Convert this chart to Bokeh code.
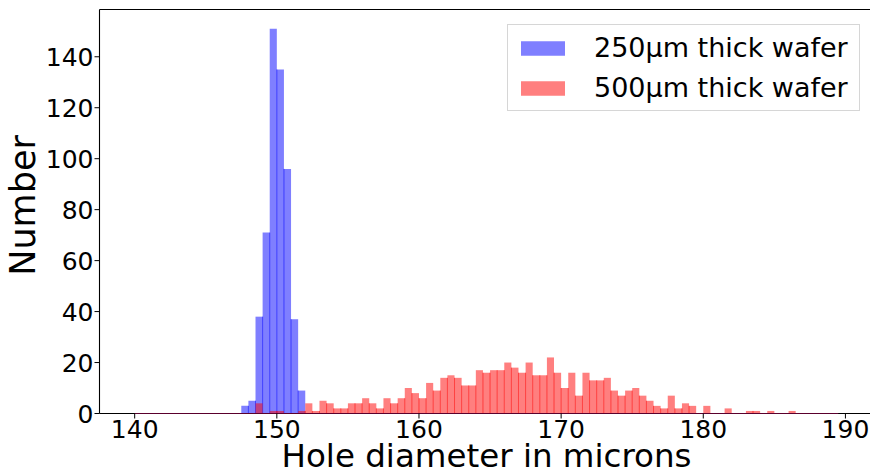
import math
import numpy as np
from bokeh.plotting import figure
from bokeh.models import Range1d, Legend, LegendItem
from bokeh.core.properties import value
from bokeh.embed import file_html
from bokeh.resources import INLINE

# Histogram bins: 0.5 micron wide, starting at 140 microns
bin_start = 140.0
bin_width = 0.5

# Counts per bin, 250 um thick wafer
counts_250 = [0] * 15 + [3, 5, 38, 71, 151, 135, 96, 37, 9] + [0] * 75

# Counts per bin, 500 um thick wafer
counts_500 = ([0] * 17 +
              [4, 0, 1, 1, 0, 0, 1, 4, 1, 5, 4, 2, 2, 4, 4, 6, 4, 2, 6,
               4, 6, 10, 8, 6, 12, 9, 14, 15, 14, 11, 11, 17, 16, 17, 17,
               20, 18, 16, 20, 15, 15, 22, 16, 10, 16, 7, 16, 13, 13, 14,
               9, 7, 9, 10, 7, 5, 3, 2, 7, 2, 4, 3, 0, 3, 0, 0, 2, 0, 0,
               1, 1, 0, 1, 0, 0, 1] +
              [0] * 6)

series_labels = ["250\u03bcm thick wafer", "500\u03bcm thick wafer"]
x_ticks = [140, 150, 160, 170, 180, 190]
x_tick_labels = ["140", "150", "160", "170", "180", "190"]
y_ticks = [0, 20, 40, 60, 80, 100, 120, 140]
y_tick_labels = ["0", "20", "40", "60", "80", "100", "120", "140"]
x_title = "Hole diameter in microns"
y_title = "Number"

FONT = "DejaVu Sans"
W, H = 870, 475
LEFT, TOP, BOTTOM = 99, 9, 62   # pixel margins around the axes box

n = len(counts_500)
left = bin_start + bin_width * np.arange(n)
right = left + bin_width
edges = np.append(left, right[-1])

# axes limits with 5% padding around the bins / tallest bar;
# the right-hand side runs slightly past the page edge
span = edges[-1] - edges[0]
x_lo = edges[0] - 0.05 * span
x_hi_full = edges[-1] + 0.05 * span
ppx = (W - LEFT + 3) / (x_hi_full - x_lo)
x_hi = x_lo + (W - LEFT) / ppx
y_hi = 1.05 * max(max(counts_250), max(counts_500))
ppy = (H - BOTTOM - TOP) / y_hi

def px_x(px):
    """data x of a page column"""
    return x_lo + (px - LEFT) / ppx

def px_y(py):
    """data y of a page row (rows counted from the top)"""
    return (H - BOTTOM - py) / ppy

# the plotting frame covers the whole page; spines, ticks and titles are glyphs
p = figure(width=W, height=H, output_backend="svg", toolbar_location=None,
           x_range=Range1d(px_x(0), px_x(W)), y_range=Range1d(px_y(H), px_y(0)),
           x_axis_location=None, y_axis_location=None, min_border=0,
           background_fill_color="white", border_fill_color="white")
p.outline_line_color = None
p.grid.visible = False

def bars(counts, color):
    r = p.quad(left=left, right=right, bottom=0, top=counts,
               fill_color=color, fill_alpha=0.5, line_color=None)
    # darker seams where neighbouring bars touch
    xs, ys = [], []
    for i in range(1, n):
        h = min(counts[i - 1], counts[i])
        if h > 0:
            xs.append(left[i]); ys.append(h)
    if xs:
        p.segment(x0=xs, y0=[0] * len(xs), x1=xs, y1=ys,
                  line_color=color, line_alpha=0.55, line_width=1)
    return r

r250 = bars(counts_250, "blue")
r500 = bars(counts_500, "red")

# spines: left, bottom, top
p.segment(x0=[x_lo, x_lo, x_lo], y0=[0, 0, y_hi],
          x1=[x_lo, x_hi, x_hi], y1=[y_hi, 0, y_hi],
          line_color="black", line_width=1.1)
# zero-height bars leave a dark line along the base
p.segment(x0=[edges[0]], y0=[0], x1=[edges[-1]], y1=[0],
          line_color="#800040", line_width=1.2, line_alpha=0.7)

# x ticks and labels
p.segment(x0=x_ticks, y0=[0] * len(x_ticks), x1=x_ticks,
          y1=[px_y(H - BOTTOM + 5)] * len(x_ticks), line_color="black", line_width=1)
p.text(x=x_ticks, y=[px_y(428)] * len(x_ticks), text=x_tick_labels,
       text_align="center", text_baseline="middle",
       text_font=value(FONT), text_font_size="25px", text_color="black")

# y ticks and labels
p.segment(x0=[px_x(LEFT - 5)] * len(y_ticks), y0=y_ticks,
          x1=[x_lo] * len(y_ticks), y1=y_ticks, line_color="black", line_width=1)
p.text(x=[px_x(93)] * len(y_ticks), y=y_ticks, text=y_tick_labels,
       text_align="right", text_baseline="middle",
       text_font=value(FONT), text_font_size="25px", text_color="black")

# axis titles
p.text(x=[px_x((LEFT + W + 3) / 2)], y=[px_y(455)], text=[x_title],
       text_align="center", text_baseline="middle",
       text_font=value(FONT), text_font_size="32.5px", text_color="black")
p.text(x=[px_x(22.5)], y=[px_y(205)], text=[y_title], angle=math.pi / 2,
       text_align="center", text_baseline="middle",
       text_font=value(FONT), text_font_size="35px", text_color="black")

legend = Legend(items=[LegendItem(label=series_labels[0], renderers=[r250]),
                       LegendItem(label=series_labels[1], renderers=[r500])],
                location=(507, 364), orientation="vertical",
                label_text_font=FONT, label_text_font_size="27px",
                label_text_color="black", label_width=258,
                glyph_width=55, glyph_height=18, label_standoff=24,
                padding=7, spacing=9, margin=0,
                border_line_color="#cccccc", border_line_alpha=0.8,
                background_fill_alpha=0.8)
p.add_layout(legend)

open("out.html", "w").write(file_html(p, INLINE))
